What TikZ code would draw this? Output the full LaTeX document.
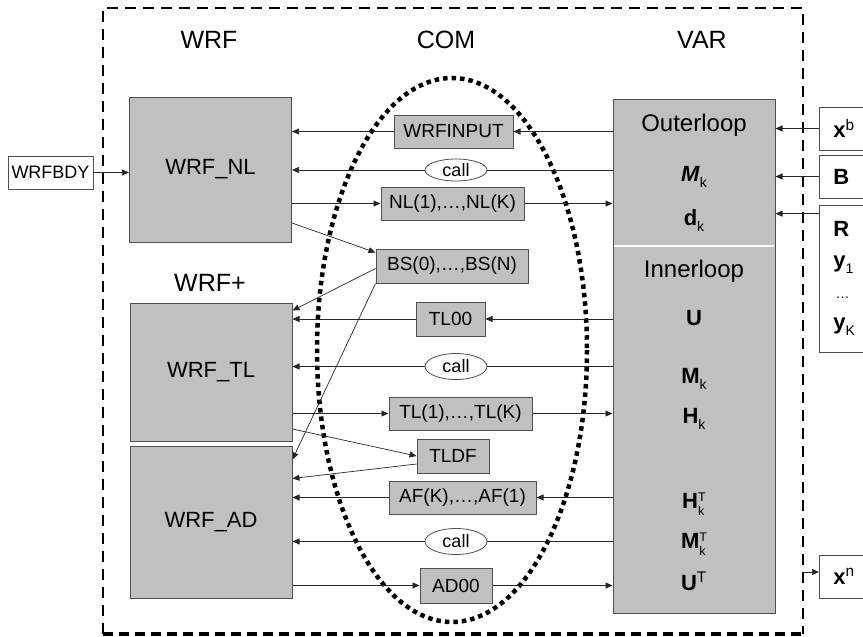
\documentclass[tikz,border=0pt]{standalone}
\usepackage{fontspec}
\setmainfont{Liberation Sans}
\usetikzlibrary{arrows.meta,shapes.geometric}
\definecolor{boxgray}{RGB}{192,192,192}
\definecolor{edgegray}{RGB}{80,80,80}
\newcommand{\lowsub}[1]{\raisebox{-6pt}{\fontsize{14}{14}\selectfont #1}}
\newcommand{\subsup}[2]{\rlap{\raisebox{-7pt}{\fontsize{12.5}{13}\selectfont #1}}\raisebox{7pt}{\fontsize{12.5}{13}\selectfont #2}}
\tikzset{
  bigbox/.style={draw=edgegray, fill=boxgray, line width=1pt, minimum width=162pt, inner sep=0pt, font=\fontsize{22}{24}\selectfont},
  combox/.style={draw=edgegray, fill=boxgray, line width=1pt, minimum height=33pt, inner sep=0pt, font=\fontsize{19}{21}\selectfont},
  callnode/.style={draw=edgegray, fill=white, ellipse, line width=0.8pt, minimum width=62pt, inner sep=0pt, font=\fontsize{18}{20}\selectfont},
  inbox/.style={draw=edgegray, fill=white, line width=0.8pt, anchor=west, inner xsep=14pt, inner ysep=0pt, text width=42pt, align=left, font=\fontsize{22}{31}\selectfont},
  title/.style={font=\fontsize{25}{27}\selectfont},
  vartext/.style={anchor=base, inner sep=0pt, font=\fontsize{22}{24}\selectfont},
  looptext/.style={vartext, font=\fontsize{24}{26}\selectfont},
  link/.style={line width=0.7pt, draw=black!85},
  arr/.style={link, -{Triangle[length=7pt,width=6pt]}},
  frameline/.style={line width=2.2pt, dash pattern=on 11pt off 7pt},
  framebase/.style={line width=4.5pt, dash pattern=on 10pt off 6pt},
  dotline/.style={line width=4.5pt, dash pattern=on 4.5pt off 4pt}
}
\begin{document}
\begin{tikzpicture}[x=1pt, y=-1pt]
  \useasboundingbox (0,0) rectangle (863,637);
  \clip (0,0) rectangle (863,637);

  % FRAME AND COLUMN TITLES
  \draw[frameline] (103,634) -- (103,8) -- (803,8) -- (803,634);
  \draw[framebase] (103,634) -- (803,634);
  \node[title] (twrf) at (209,40) {WRF};
  \node[title] (tcom) at (446,40) {COM};
  \node[title] (tvar) at (702,40) {VAR};
  \node[title] (twrfplus) at (210,283) {WRF+};

  % COM ELLIPSE
  \draw[dotline] (452,350) ellipse (135 and 272);

  % WRF BOXES
  \node[bigbox, minimum height=145pt] (wrfnl) at (210.5,169.5) {WRF\_NL};
  \node[bigbox, minimum height=138pt] (wrftl) at (211,372) {WRF\_TL};
  \node[bigbox, minimum height=152pt] (wrfad) at (211,522) {WRF\_AD};
  \node[draw=edgegray, line width=0.8pt, minimum width=85pt, minimum height=33pt, inner sep=0pt,
        font=\fontsize{18}{20}\selectfont] (wrfbdy) at (50.5,172.5) {WRFBDY};

  % VAR BOX
  \node[bigbox, minimum height=514pt] (var) at (694,356) {};
  \draw[white, line width=1.2pt] (614,246) -- (774,246);
  \node[looptext] (outer) at (694,131) {Outerloop};
  \node[vartext] (vmk) at (694,181) {\textbf{\textit{M}}\lowsub{k}};
  \node[vartext] (vdk) at (694,225) {\textbf{d}\lowsub{k}};
  \node[looptext] (inner) at (694,277) {Innerloop};
  \node[vartext] (vu) at (694,325) {\textbf{U}};
  \node[vartext] (vmk2) at (694,383) {\textbf{M}\lowsub{k}};
  \node[vartext] (vhk) at (694,423) {\textbf{H}\lowsub{k}};
  \node[vartext] (vhkt) at (694,508) {\textbf{H}\subsup{k}{T}};
  \node[vartext] (vmkt) at (694,548) {\textbf{M}\subsup{k}{T}};
  \node[vartext] (vut) at (694,590) {\textbf{U}\textsuperscript{T}};

  % COM NODES
  \node[combox, minimum width=119pt] (wrfinput) at (453.5,131.5) {WRFINPUT};
  \node[callnode, minimum height=22pt] (call1) at (456,170) {call};
  \node[combox, minimum width=143pt] (nlbox) at (452.5,203.5) {NL(1),…,NL(K)};
  \node[combox, minimum width=152pt, minimum height=34pt] (bsbox) at (452,266) {BS(0),…,BS(N)};
  \node[combox, minimum width=69pt, minimum height=34pt] (tl00) at (450.5,319) {TL00};
  \node[callnode, minimum height=26pt] (call2) at (456,366.5) {call};
  \node[combox, minimum width=143pt] (tlbox) at (460.5,413.5) {TL(1),…,TL(K)};
  \node[combox, minimum width=72pt, minimum height=34pt] (tldf) at (453,456) {TLDF};
  \node[combox, minimum width=147pt] (afbox) at (462.5,497.5) {AF(K),…,AF(1)};
  \node[callnode, minimum height=26pt] (call3) at (456,541.5) {call};
  \node[combox, minimum width=72pt, minimum height=35pt] (ad00) at (456,585.5) {AD00};

  % OUTSIDE BOXES
  \node[inbox, minimum height=43pt] (xb) at (819,128.5) {\textbf{x}\textsuperscript{b}};
  \node[inbox, minimum height=43pt] (bmat) at (819,176.5) {\textbf{B}};
  \node[inbox, minimum height=147pt] (rbox) at (819,278.5)
    {\textbf{R}\\\textbf{y}\lowsub{1}\\{\fontsize{14}{14}\selectfont\,…}\\\textbf{y}\lowsub{K}};
  \node[inbox, minimum height=43pt] (xn) at (819,576.5) {\textbf{x}\textsuperscript{n}};
  \coordinate (xnout) at (803,572);

  % DRAW ARROWS
  \path[draw, arr] (wrfbdy.east) -- (wrfbdy.east -| wrfnl.west);
  \path[draw, arr] (var.west |- wrfinput.east) -- (wrfinput.east);
  \path[draw, arr] (wrfinput.west) -- (wrfinput.west -| wrfnl.east);
  \path[draw, link] (var.west |- call1.east) -- (call1.east);
  \path[draw, arr] (call1.west) -- (call1.west -| wrfnl.east);
  \path[draw, arr] (nlbox.west -| wrfnl.east) -- (nlbox.west);
  \path[draw, arr] (nlbox.east) -- (nlbox.east -| var.west);
  \path[draw, arr] ([yshift=-53.5pt]wrfnl.east) -- ([yshift=-4pt]bsbox.north west);
  \path[draw, arr] ([yshift=-20pt]bsbox.north west) -- ([yshift=-8pt]wrftl.north east);
  \path[draw, arr] (bsbox.south west) -- ([yshift=-14pt]wrfad.north east);
  \path[draw, arr] (var.west |- tl00.east) -- (tl00.east);
  \path[draw, arr] (tl00.west) -- (tl00.west -| wrftl.east);
  \path[draw, link] (var.west |- call2.east) -- (call2.east);
  \path[draw, arr] (call2.west) -- (call2.west -| wrftl.east);
  \path[draw, arr] (tlbox.west -| wrftl.east) -- (tlbox.west);
  \path[draw, arr] (tlbox.east) -- (tlbox.east -| var.west);
  \path[draw, arr] ([yshift=-57pt]wrftl.east) -- (tldf.west);
  \path[draw, arr] ([yshift=-8pt]tldf.west) -- ([yshift=-33pt]wrfad.north east);
  \path[draw, arr] (var.west |- afbox.east) -- (afbox.east);
  \path[draw, arr] (afbox.west) -- (afbox.west -| wrfad.east);
  \path[draw, link] (var.west |- call3.east) -- (call3.east);
  \path[draw, arr] (call3.west) -- (call3.west -| wrfad.east);
  \path[draw, arr] (ad00.west -| wrfad.east) -- (ad00.west);
  \path[draw, arr] (ad00.east) -- (ad00.east -| var.west);

  % DRAW INPUTS AND OUTPUT
  \path[draw, arr] (xb.west) -- (xb.west -| var.east);
  \path[draw, arr] (bmat.west) -- (bmat.west -| var.east);
  \path[draw, arr] ([yshift=-9pt]rbox.north west) -- ([yshift=-9pt]rbox.north west -| var.east);
  \path[draw, arr] (xnout) -- (xnout -| xn.west);
\end{tikzpicture}
\end{document}
